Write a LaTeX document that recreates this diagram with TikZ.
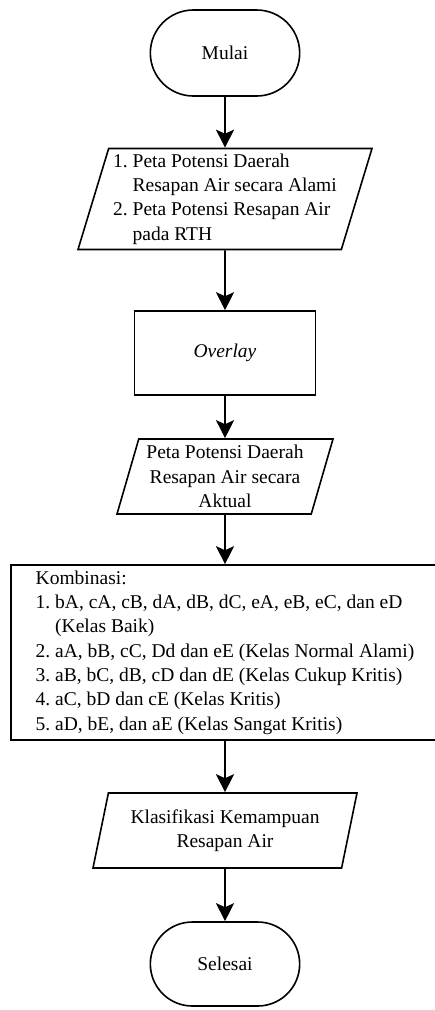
\documentclass[tikz,border=0pt]{standalone}
\usepackage{fontspec}
\setmainfont{Liberation Serif}
\usetikzlibrary{shapes.geometric,shapes.misc,arrows.meta}
\frenchspacing

\begin{document}
\begin{tikzpicture}
  [x=1pt,y=-1pt,line width=1.6pt,>={Stealth[length=18pt,width=18pt,inset=4pt]},
   every node/.style={font=\fontsize{19.5}{24.3}\selectfont},
   terminal/.style={draw,rounded rectangle,minimum width=156,minimum height=86},
   datain/.style={draw,trapezium,trapezium left angle=72.5,trapezium right angle=107.5,
     trapezium stretches body,align=center},
   process/.style={draw,rectangle,minimum width=181,minimum height=84}]
  \useasboundingbox (0,0) rectangle (435,1010);

  \node[terminal] (mulai) at (225,53) {Mulai};
  \node[datain,minimum width=294,minimum height=101,align=left] (peta) at (225,199)
    {1. Peta Potensi Daerah\\\phantom{1. }Resapan Air secara Alami\\
     2. Peta Potensi Resapan Air\\\phantom{2. }pada RTH};
  \node[process] (overlay) at (225,353) {\textit{Overlay}};
  \node[datain,minimum width=216,minimum height=75] (aktual) at (225,476.5)
    {Peta Potensi Daerah\\Resapan Air secara\\Aktual};
  \node[draw,rectangle,minimum width=428,minimum height=175,align=left]
    (kombinasi) at (225,652.5)
    {Kombinasi:\\
     1. bA, cA, cB, dA, dB, dC, eA, eB, eC, dan eD\\
     \phantom{1. }(Kelas Baik)\\
     2. aA, bB, cC, Dd dan eE (Kelas Normal Alami)\\
     3. aB, bC, dB, cD dan dE (Kelas Cukup Kritis)\\
     4. aC, bD dan cE (Kelas Kritis)\\
     5. aD, bE, dan aE (Kelas Sangat Kritis)};
  \node[datain,minimum width=264,minimum height=75] (klasifikasi) at (225,830.5)
    {Klasifikasi Kemampuan\\Resapan Air};
  \node[terminal,minimum height=84] (selesai) at (225,964) {Selesai};

  \foreach \from/\to in {mulai/peta,peta/overlay,overlay/aktual,aktual/kombinasi,
      kombinasi/klasifikasi,klasifikasi/selesai}
    \draw[->] (\from) -- (\to);

\end{tikzpicture}
\end{document}
